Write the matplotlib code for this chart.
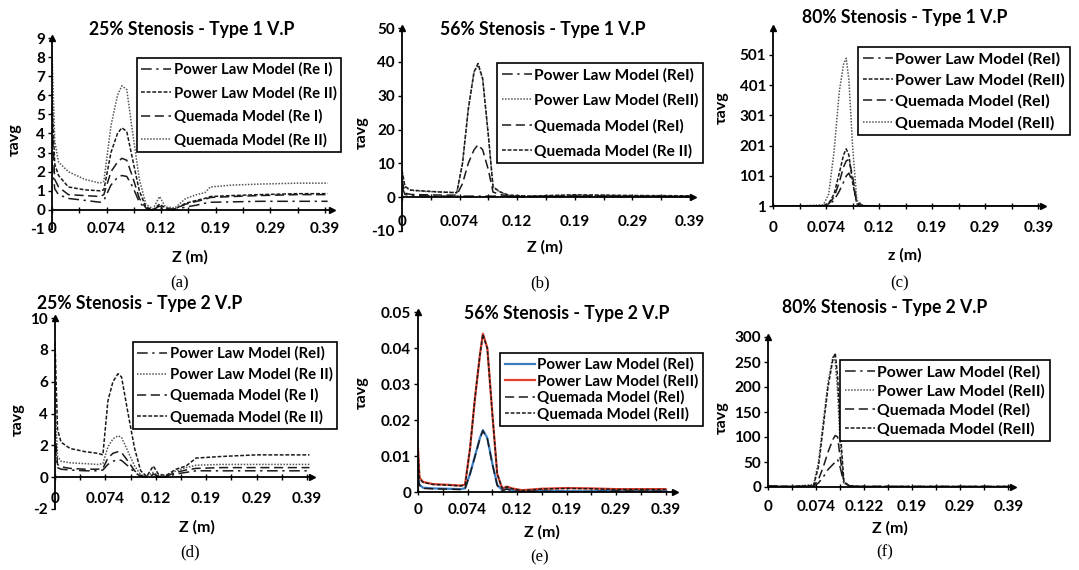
import matplotlib
matplotlib.use("Agg")
import matplotlib.pyplot as plt

plt.rcParams['font.family'] = ['Lato', 'DejaVu Sans']
plt.rcParams['font.weight'] = 'bold'

W, H = 1079, 570

## Data (x given in axis-category units: tick k = k-th label)
xlab_std = ["0", "0.074", "0.12", "0.19", "0.29", "0.39"]
xlab_f = ["0", "0.074", "0.122", "0.19", "0.29", "0.39"]

# (a) 25% stenosis, type 1
xa = [0, 0.05, 0.12, 0.3, 0.6, 0.88, 0.95, 1.08, 1.2, 1.28, 1.37, 1.48, 1.6, 1.72,
      1.85, 1.97, 2.08, 2.25, 2.45, 2.65, 2.8, 2.9, 3.3, 3.8, 4.5, 5.05]
a_pl1 = [2.5, 1.1, 0.8, 0.6, 0.5, 0.4, 0.5, 1.3, 1.7, 1.8, 1.75, 1.2, 0.4, 0.05,
         0.0, 0.1, 0.0, 0.0, 0.15, 0.25, 0.35, 0.4, 0.42, 0.45, 0.45, 0.45]
a_pl2 = [6.0, 2.4, 1.8, 1.2, 1.05, 1.0, 1.05, 3.0, 4.0, 4.3, 4.1, 2.6, 1.0, 0.15,
         0.0, 0.3, 0.1, 0.05, 0.35, 0.5, 0.6, 0.7, 0.75, 0.8, 0.85, 0.85]
a_q1 = [4.5, 1.6, 1.2, 0.8, 0.75, 0.7, 0.8, 2.0, 2.5, 2.7, 2.6, 1.7, 0.6, 0.1,
        0.0, 0.2, 0.05, 0.05, 0.3, 0.45, 0.55, 0.65, 0.7, 0.75, 0.8, 0.8]
a_q2 = [8.3, 3.6, 2.5, 2.0, 1.6, 1.4, 1.5, 4.4, 6.0, 6.5, 6.3, 4.0, 1.6, 0.3,
        0.05, 0.7, 0.15, 0.1, 0.6, 0.8, 0.9, 1.2, 1.3, 1.35, 1.4, 1.4]

# (b) 56% stenosis, type 1
xb = [0, 0.05, 0.15, 0.4, 0.7, 0.95, 1.05, 1.15, 1.25, 1.32, 1.4, 1.5, 1.58, 1.7,
      1.85, 2.2, 3.0, 4.0, 5.0]
b_pl1 = [3, 0.8, 0.5, 0.4, 0.3, 0.3, 0.3, 0.3, 0.3, 0.3, 0.3, 0.3, 0.3, 0.3, 0.2,
         0.2, 0.2, 0.2, 0.2]
b_pl2 = [7.5, 3.0, 2.0, 1.7, 1.5, 1.4, 10, 26, 37, 39, 35, 18, 3, 1.5, 0.5, 0.3,
         0.6, 0.4, 0.3]
b_q1 = [5, 1.2, 0.8, 0.7, 0.6, 0.6, 4, 10, 14, 15.5, 14, 8, 1.5, 0.8, 0.3, 0.2,
        0.4, 0.3, 0.2]
b_q2 = [8, 3.2, 2.1, 1.8, 1.5, 1.3, 10, 26, 37, 39.5, 35, 18, 3, 1.6, 0.6, 0.3,
        0.7, 0.5, 0.4]

# (c) 80% stenosis, type 1
xc = [0, 0.5, 0.95, 1.05, 1.15, 1.25, 1.33, 1.38, 1.43, 1.5, 1.58, 1.7, 2.0, 5.05]
c_pl1 = [1, 1, 1, 5, 20, 50, 80, 100, 110, 80, 12, 2, 1, 1]
c_pl2 = [1, 1, 2, 10, 40, 110, 170, 190, 170, 80, 8, 1, 1, 1]
c_q1 = [1, 1, 2, 8, 30, 80, 130, 150, 155, 100, 15, 2, 1, 1]
c_q2 = [1, 1, 5, 40, 180, 380, 470, 490, 420, 200, 20, 1, 1, 1]

# (d) 25% stenosis, type 2
xd = [0, 0.05, 0.12, 0.3, 0.6, 0.85, 0.95, 1.05, 1.15, 1.25, 1.32, 1.45, 1.58, 1.7,
      1.82, 1.95, 2.05, 2.2, 2.4, 2.6, 2.8, 3.3, 4.0, 5.05]
d_pl1 = [2.0, 0.6, 0.5, 0.45, 0.4, 0.4, 0.45, 0.8, 1.0, 1.1, 1.05, 0.7, 0.3, 0.05,
         0.0, 0.15, 0.0, 0.0, 0.2, 0.3, 0.4, 0.4, 0.4, 0.4]
d_pl2 = [5.0, 1.3, 1.0, 0.9, 0.85, 0.8, 0.85, 1.9, 2.4, 2.6, 2.5, 1.6, 0.7, 0.15,
         0.05, 0.3, 0.1, 0.05, 0.4, 0.6, 0.75, 0.8, 0.8, 0.8]
d_q1 = [3.0, 0.8, 0.65, 0.55, 0.5, 0.5, 0.55, 1.2, 1.5, 1.6, 1.55, 1.0, 0.4, 0.1,
        0.0, 0.2, 0.05, 0.05, 0.3, 0.45, 0.55, 0.6, 0.6, 0.6]
d_q2 = [8.5, 3.0, 2.2, 1.8, 1.6, 1.5, 1.4, 4.8, 6.0, 6.5, 6.3, 4.0, 1.8, 0.4,
        0.05, 0.7, 0.2, 0.1, 0.5, 0.7, 1.2, 1.3, 1.4, 1.4]

# (e) 56% stenosis, type 2
xe = [0, 0.03, 0.1, 0.3, 0.6, 0.85, 0.95, 1.05, 1.15, 1.25, 1.31, 1.4, 1.5, 1.6,
      1.7, 1.8, 1.9, 2.1, 2.5, 3.0, 3.5, 4.0, 5.0]
e_pl1 = [0.005, 0.002, 0.0012, 0.001, 0.0009, 0.0008, 0.001, 0.005, 0.01, 0.015,
         0.0172, 0.015, 0.008, 0.002, 0.0005, 0.001, 0.0004, 0.0002, 0.0003,
         0.0002, 0.0002, 0.0004, 0.0003]
e_pl2 = [0.012, 0.004, 0.0028, 0.0022, 0.002, 0.0018, 0.002, 0.012, 0.026, 0.038,
         0.044, 0.04, 0.022, 0.005, 0.001, 0.0015, 0.001, 0.0005, 0.0009, 0.0011,
         0.001, 0.0008, 0.0008]
e_q1 = [0.004, 0.0018, 0.001, 0.0009, 0.0008, 0.0007, 0.0009, 0.005, 0.0098,
        0.0148, 0.017, 0.0148, 0.0078, 0.0018, 0.0004, 0.0008, 0.0003, 0.0001,
        0.0002, 0.0001, 0.0001, 0.0003, 0.0002]
e_q2 = [0.011, 0.0038, 0.0027, 0.0021, 0.0019, 0.0017, 0.0019, 0.012, 0.026, 0.038,
        0.0438, 0.0398, 0.022, 0.005, 0.001, 0.0014, 0.0009, 0.0004, 0.0008, 0.001,
        0.0009, 0.0007, 0.0007]

# (f) 80% stenosis, type 2
xf = [0, 0.5, 0.95, 1.05, 1.15, 1.25, 1.35, 1.4, 1.45, 1.5, 1.58, 1.7, 2.0, 5.05]
f_pl1 = [2, 1, 2, 8, 20, 35, 45, 50, 55, 40, 8, 2, 1, 1]
f_pl2 = [2, 1, 5, 50, 130, 210, 260, 250, 190, 90, 8, 1, 1, 1]
f_q1 = [2, 1, 2, 15, 40, 70, 95, 103, 100, 60, 10, 2, 1, 1]
f_q2 = [2, 1, 3, 40, 120, 200, 255, 268, 220, 120, 10, 2, 1, 1]

## Line styles (Excel look)
DD = (0, (7, 3, 1.5, 3))
SD = (0, (2.5, 1.2))
LD = (0, (6, 3))
DT = (0, (1, 1))
K = "#1a1a1a"

fig = plt.figure(figsize=(W / 100, H / 100), dpi=100)


def ftext(x, y, s, **kw):
    fig.text(x / W, 1 - y / H, s, ha="center", va="center", **kw)


def panel(box, ylim, yticks, ylabels, xmax, base, labrow, xlabels, series, legpos,
          legsize, legspace, title, xlab, tag, ylabpos):
    l, r, t, b = box
    ax = fig.add_axes([l / W, 1 - b / H, (r - l) / W, (b - t) / H])
    ax.set_xlim(0, xmax)
    ax.set_ylim(*ylim)
    for x, y, lab, c, ls, lw in series:
        ax.plot(x, y, color=c, ls=ls, lw=lw, label=lab)
    ax.spines["top"].set_visible(False)
    ax.spines["right"].set_visible(False)
    ax.spines["bottom"].set_position(("data", base))
    ax.spines["left"].set_linewidth(1.3)
    ax.spines["bottom"].set_linewidth(1.3)
    ax.set_xticks(range(6))
    ax.set_xticks([k + 0.5 for k in range(5)], minor=True)
    ax.tick_params(axis="x", which="both", direction="inout", length=5,
                   labelbottom=False, width=1)
    ax.set_yticks(yticks)
    ax.set_yticklabels(ylabels, fontsize=11, fontweight="bold")
    ax.tick_params(axis="y", direction="out", length=3, width=1, pad=2)
    # arrows on axes ends
    ax.plot(0, 1, marker="^", color="k", ms=4, transform=ax.transAxes, clip_on=False)
    ax.plot(1, base, marker=">", color="k", ms=4, transform=ax.get_yaxis_transform(),
            clip_on=False)
    # category labels on a low row
    loc = (b - labrow) / (b - t)
    sec = ax.secondary_xaxis(loc)
    sec.set_xticks(range(6))
    sec.set_xticklabels(xlabels, fontsize=11, fontweight="bold")
    sec.tick_params(length=0, pad=0)
    sec.spines["bottom"].set_visible(False)
    for lb in sec.get_xticklabels():
        lb.set_va("center")
    fpx = legsize * 100 / 72
    leg = ax.legend(loc="upper left", bbox_to_anchor=(legpos[0] / W, 1 - legpos[1] / H),
                    bbox_transform=fig.transFigure, fancybox=False, framealpha=1,
                    edgecolor="k", handlelength=30 / fpx, handletextpad=0.15,
                    borderpad=0.3, labelspacing=legspace, borderaxespad=0,
                    prop=dict(size=legsize, weight="bold"))
    leg.get_frame().set_linewidth(1.2)
    ftext(title[1], title[2], title[0], fontsize=12.7, fontweight="bold")
    ftext(xlab[1], xlab[2], xlab[0], fontsize=11.5, fontweight="bold")
    ftext(tag[1], tag[2], tag[0], fontsize=12, fontweight="normal",
          family="Liberation Serif")
    ftext(ylabpos[0], ylabpos[1], "τavg", fontsize=11.5, fontweight="bold", rotation=90)
    return ax


panel((52, 332, 38, 229), (-1, 9), list(range(-1, 10)), [str(v) for v in range(-1, 10)],
      5.13, 0, 229, xlab_std,
      [(xa, a_pl1, "Power Law Model (Re I)", K, DD, 1.1),
       (xa, a_pl2, "Power Law Model (Re II)", K, SD, 1.1),
       (xa, a_q1, "Quemada Model (Re I)", K, LD, 1.1),
       (xa, a_q2, "Quemada Model (Re II)", "#555555", DT, 1.1)],
      (137, 58), 10.7, 0.61, ("25% Stenosis - Type 1 V.P", 192, 30), ("Z (m)", 190, 257),
      ("(a)", 180, 283), (15, 140))

panel((402, 693, 28, 231), (-10, 50), list(range(-10, 51, 10)),
      [str(v) for v in range(-10, 51, 10)], 5.05, 0, 222, xlab_std,
      [(xb, b_pl1, "Power Law Model (ReI)", K, DD, 1.1),
       (xb, b_pl2, "Power Law Model (ReII)", "#555555", DT, 1.1),
       (xb, b_q1, "Quemada Model (ReI)", K, LD, 1.1),
       (xb, b_q2, "Quemada Model (Re II)", K, SD, 1.1)],
      (497, 63), 11.05, 0.72, ("56% Stenosis - Type 1 V.P", 543, 30), ("Z (m)", 545, 247),
      ("(b)", 540, 283), (362, 133))

panel((773, 1043, 28, 206), (1, 590), list(range(1, 502, 100)),
      [str(v) for v in range(1, 502, 100)], 5.09, 1, 228, xlab_std,
      [(xc, c_pl1, "Power Law Model (ReI)", K, DD, 1.1),
       (xc, c_pl2, "Power Law Model (ReII)", K, SD, 1.1),
       (xc, c_q1, "Quemada Model (ReI)", K, LD, 1.1),
       (xc, c_q2, "Quemada Model (ReII)", "#555555", DT, 1.1)],
      (858, 47), 11.5, 0.43, ("80% Stenosis - Type 1 V.P", 905, 17), ("z (m)", 905, 255),
      ("(c)", 900, 283), (722, 108))

panel((55, 312, 318, 509), (-2, 10), list(range(-2, 11, 2)),
      [str(v) for v in range(-2, 11, 2)], 5.1, 0, 499, xlab_std,
      [(xd, d_pl1, "Power Law Model (ReI)", K, DD, 1.1),
       (xd, d_pl2, "Power Law Model (Re II)", "#555555", DT, 1.1),
       (xd, d_q1, "Quemada Model (Re I)", K, LD, 1.1),
       (xd, d_q2, "Quemada Model (Re II)", K, SD, 1.1)],
      (133, 342), 10.75, 0.44, ("25% Stenosis - Type 2 V.P", 140, 303), ("Z (m)", 197, 527),
      ("(d)", 190, 552), (18, 420))

panel((418, 675, 312, 492), (0, 0.05), [0, 0.01, 0.02, 0.03, 0.04, 0.05],
      ["0", "0.01", "0.02", "0.03", "0.04", "0.05"], 5.19, 0, 510, xlab_std,
      [(xe, e_pl1, "Power Law Model (ReI)", "#3b7fc4", "-", 1.6),
       (xe, e_pl2, "Power Law Model (ReII)", "#e2412e", "-", 1.6),
       (xe, e_q1, "Quemada Model (ReI)", K, LD, 1.1),
       (xe, e_q2, "Quemada Model (ReII)", K, SD, 1.1)],
      (500, 353), 10.9, 0.13, ("56% Stenosis - Type 2 V.P", 567, 313), ("Z (m)", 542, 532),
      ("(e)", 540, 557), (362, 393))

panel((768, 1013, 337, 487), (0, 300), list(range(0, 301, 50)),
      [str(v) for v in range(0, 301, 50)], 5.1, 0, 507, xlab_f,
      [(xf, f_pl1, "Power Law Model (ReI)", K, DD, 1.1),
       (xf, f_pl2, "Power Law Model (ReII)", "#555555", DT, 1.1),
       (xf, f_q1, "Quemada Model (ReI)", K, LD, 1.1),
       (xf, f_q2, "Quemada Model (ReII)", K, SD, 1.1)],
      (840, 360), 11.3, 0.29, ("80% Stenosis - Type 2 V.P", 885, 308), ("Z (m)", 890, 528),
      ("(f)", 885, 552), (722, 418))

fig.savefig("out.png", dpi=100)
